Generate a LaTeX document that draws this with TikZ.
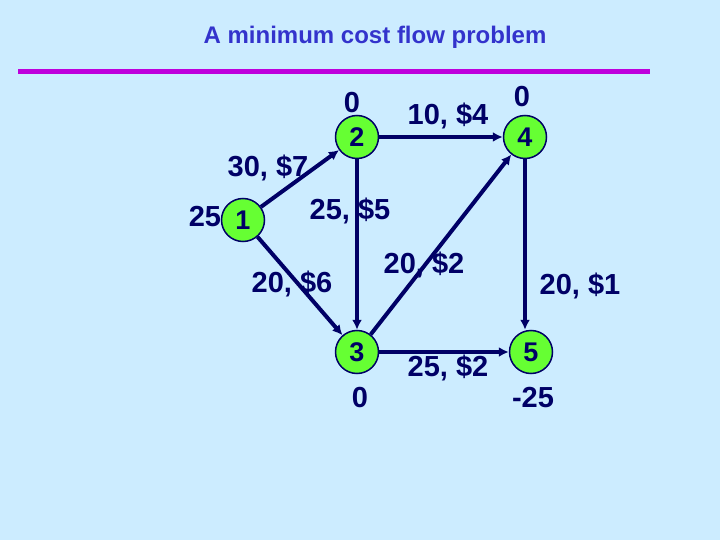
\documentclass[tikz,border=0pt]{standalone}
\usepackage{fontspec}
\setmainfont{Liberation Sans}
\usetikzlibrary{arrows.meta}
\definecolor{bg}{RGB}{204,236,255}
\definecolor{navy}{RGB}{0,0,102}
\definecolor{tblue}{RGB}{51,51,204}
\definecolor{ngreen}{RGB}{102,255,51}
\definecolor{mag}{RGB}{190,0,220}
\begin{document}
\begin{tikzpicture}[x=1pt,y=-1pt,
  vert/.style={circle,draw=navy,line width=1.5pt,fill=ngreen,minimum size=43pt,inner sep=0pt,font=\fontsize{27}{27}\selectfont\bfseries,text=navy},
  lab/.style={font=\fontsize{29}{29}\selectfont\bfseries,text=navy},
  edge/.style={draw=navy,line width=4pt,-{Latex[length=10pt,width=10pt]}}]
\fill[bg] (0,0) rectangle (720,540);
\useasboundingbox (0,0) rectangle (720,540);
\node[font=\fontsize{24}{24}\selectfont\bfseries,text=tblue] (title) at (375,37) {A minimum cost flow problem};
\coordinate (la) at (18,72); \coordinate (lb) at (650,72);
\draw[mag,line width=5pt] (la) -- (lb);
\node[vert] (n1) at (243,220) {1};
\node[vert] (n2) at (357,137) {2};
\node[vert] (n3) at (357,352) {3};
\node[vert] (n4) at (525,137) {4};
\node[vert] (n5) at (531,352) {5};
\draw[edge] (n1) -- (n2);
\draw[edge] (n1) -- (n3);
\draw[edge] (n2) -- (n4);
\draw[edge] (n2) -- (n3);
\draw[edge] (n3) -- (n4);
\draw[edge] (n3) -- (n5);
\draw[edge] (n4.south) -- (n4.south |- n5.north);
\node[lab] (s2) at (352,103) {0};
\node[lab] (s4) at (522,97) {0};
\node[lab] (s1) at (205,217) {25};
\node[lab] (s3) at (360,398) {0};
\node[lab] (s5) at (533,398) {-25};
\node[lab] (e24) at (448,116) {10, \$4};
\node[lab] (e12) at (268,168) {30, \$7};
\node[lab] (e23) at (350,211) {25, \$5};
\node[lab] (e34) at (424,265) {20, \$2};
\node[lab] (e13) at (292,284) {20, \$6};
\node[lab] (e45) at (580,286) {20, \$1};
\node[lab] (e35) at (448,368) {25, \$2};
\end{tikzpicture}
\end{document}
